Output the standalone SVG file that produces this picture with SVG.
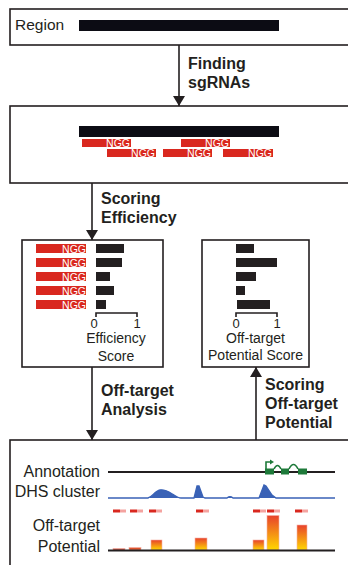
<svg xmlns="http://www.w3.org/2000/svg" width="348" height="565" viewBox="0 0 348 565">
<style>
.box{fill:#fff;stroke:#231f20;stroke-width:1.6}
.lbl{font-family:"Liberation Sans",Arial,sans-serif;font-size:16px;font-weight:bold;fill:#231f20}
.txt{font-family:"Liberation Sans",Arial,sans-serif;font-size:14px;fill:#231f20}
.tick{font-family:"Liberation Sans",Arial,sans-serif;font-size:13px;fill:#231f20}
.trk{font-family:"Liberation Sans",Arial,sans-serif;font-size:16px;fill:#231f20}
.ngg{font-family:"Liberation Sans",Arial,sans-serif;font-size:10.5px;fill:#fff}
.red{fill:#d9281f}
.blk{fill:#0c0c14}
.bar{fill:#231f20}
.con{stroke:#231f20;stroke-width:1.6;fill:none}
.mk{fill:#d9281f}
.mk2{fill:#f4a3a0}
</style>
<defs>
<marker id="ah" markerUnits="userSpaceOnUse" markerWidth="10" markerHeight="12" viewBox="0 0 10 12" refX="10" refY="6" orient="auto">
<path d="M0,0 L10,6 L0,12 z" fill="#231f20"/>
</marker>
<linearGradient id="grad" x1="0" y1="0" x2="0" y2="1">
<stop offset="0" stop-color="#e8412c"/>
<stop offset="1" stop-color="#ffd800"/>
</linearGradient>
</defs>

<g id="connectors">
<line class="con" x1="179" y1="45" x2="179" y2="106" marker-end="url(#ah)"/>
<line class="con" x1="92" y1="183" x2="92" y2="240" marker-end="url(#ah)"/>
<line class="con" x1="92" y1="367" x2="92" y2="440" marker-end="url(#ah)"/>
<line class="con" x1="256" y1="440" x2="256" y2="367" marker-end="url(#ah)"/>
<text class="lbl" x="188" y="69">Finding</text>
<text class="lbl" x="188" y="88">sgRNAs</text>
<text class="lbl" x="101" y="204">Scoring</text>
<text class="lbl" x="101" y="223">Efficiency</text>
<text class="lbl" x="101" y="396">Off-target</text>
<text class="lbl" x="101" y="415">Analysis</text>
<text class="lbl" x="265" y="390">Scoring</text>
<text class="lbl" x="265" y="409">Off-target</text>
<text class="lbl" x="265" y="428">Potential</text>
</g>

<g id="region">
<rect class="box" x="10" y="9" width="360" height="36"/>
<text class="trk" x="15" y="30" style="font-size:15.5px">Region</text>
<rect class="blk" x="79" y="20" width="200" height="11"/>
</g>

<g id="sgrnas">
<rect class="box" x="10" y="106" width="360" height="77"/>
<rect class="blk" x="79" y="126" width="200" height="11"/>
<rect class="red" x="82" y="139" width="49" height="8"/>
<text class="ngg" x="130" y="147" text-anchor="end">NGG</text>
<rect class="red" x="181" y="139" width="49" height="8"/>
<text class="ngg" x="229" y="147" text-anchor="end">NGG</text>
<rect class="red" x="107" y="149" width="49" height="8"/>
<text class="ngg" x="155" y="157" text-anchor="end">NGG</text>
<rect class="red" x="163" y="149" width="49" height="8"/>
<text class="ngg" x="211" y="157" text-anchor="end">NGG</text>
<rect class="red" x="223" y="149" width="50" height="8"/>
<text class="ngg" x="272" y="157" text-anchor="end">NGG</text>
</g>

<g id="efficiency">
<rect class="box" x="22" y="240" width="141" height="127"/>
<rect class="red" x="36" y="244" width="50" height="9"/><text class="ngg" x="86" y="252.5" text-anchor="end">NGG</text>
<rect class="red" x="36" y="258" width="50" height="9"/><text class="ngg" x="86" y="266.5" text-anchor="end">NGG</text>
<rect class="red" x="36" y="272" width="50" height="9"/><text class="ngg" x="86" y="280.5" text-anchor="end">NGG</text>
<rect class="red" x="36" y="286" width="50" height="9"/><text class="ngg" x="86" y="294.5" text-anchor="end">NGG</text>
<rect class="red" x="36" y="300" width="50" height="9"/><text class="ngg" x="86" y="308.5" text-anchor="end">NGG</text>
<rect class="bar" x="96" y="244" width="28" height="9"/>
<rect class="bar" x="96" y="258" width="26" height="9"/>
<rect class="bar" x="96" y="272" width="14" height="9"/>
<rect class="bar" x="96" y="286" width="18" height="9"/>
<rect class="bar" x="96" y="300" width="10" height="9"/>
<path class="con" d="M96,317 V313 H137 V317"/>
<text class="tick" x="94" y="328" text-anchor="middle">0</text>
<text class="tick" x="137" y="328" text-anchor="middle">1</text>
<text class="txt" x="116" y="343" text-anchor="middle">Efficiency</text>
<text class="txt" x="116" y="361" text-anchor="middle">Score</text>
</g>

<g id="offtarget-score">
<rect class="box" x="202" y="240" width="107" height="127"/>
<rect class="bar" x="236" y="244" width="18" height="9"/>
<rect class="bar" x="236" y="258" width="41" height="9"/>
<rect class="bar" x="236" y="272" width="20" height="9"/>
<rect class="bar" x="236" y="286" width="9" height="9"/>
<rect class="bar" x="237" y="300" width="33" height="9"/>
<path class="con" d="M236,317 V313 H277 V317"/>
<text class="tick" x="236" y="328" text-anchor="middle">0</text>
<text class="tick" x="277" y="328" text-anchor="middle">1</text>
<text class="txt" x="255.5" y="343" text-anchor="middle">Off-target</text>
<text class="txt" x="255.5" y="360" text-anchor="middle">Potential Score</text>
</g>

<g id="analysis">
<rect class="box" x="10" y="440" width="360" height="140"/>
<text class="trk" x="100" y="477" text-anchor="end">Annotation</text>
<line x1="108" y1="472" x2="335" y2="472" stroke="#231f20" stroke-width="2"/>
<g fill="#1e7a3a" stroke="#1e7a3a">
<rect x="265" y="468.5" width="9" height="6" stroke="none"/>
<rect x="281" y="468.5" width="8" height="6" stroke="none"/>
<rect x="298" y="468.5" width="9" height="6" stroke="none"/>
<path d="M274,469 Q277.5,462 281,469 M289,469 Q293.5,460 298,469" fill="none" stroke-width="1.6"/>
<path d="M266,469 V462 H271" fill="none" stroke-width="1.6"/>
<path d="M270,459.5 L274,462 L270,464.5 z" stroke="none"/>
</g>
<text class="trk" x="100" y="497" text-anchor="end">DHS cluster</text>
<path d="M108,498 L148,498 C152,497 155,491 160,490 C165,489 169,492 174,495 C177,497 179,498 181,498 L194,498 L197,486 L199,486 L203,497 L205,498 L227,498 Q230,495.5 233,498 L259,498 L264,485 L266,486 L272,495 L276,498 L335,498" fill="#3a62b6" stroke="#3a62b6" stroke-width="1.3"/>
<text class="trk" x="100" y="531" text-anchor="end">Off-target</text>
<text class="trk" x="100" y="552" text-anchor="end">Potential</text>
<g>
<rect class="mk" x="113" y="509.5" width="7" height="3"/><rect class="mk2" x="120" y="509.5" width="6" height="3"/>
<rect class="mk" x="130" y="509.5" width="7" height="3"/><rect class="mk2" x="137" y="509.5" width="6" height="3"/>
<rect class="mk" x="149" y="509.5" width="7" height="3"/><rect class="mk2" x="156" y="509.5" width="6" height="3"/>
<rect class="mk" x="196" y="509.5" width="7" height="3"/><rect class="mk2" x="203" y="509.5" width="6" height="3"/>
<rect class="mk" x="253" y="509.5" width="7" height="3"/><rect class="mk2" x="260" y="509.5" width="6" height="3"/>
<rect class="mk" x="267" y="509.5" width="7" height="3"/><rect class="mk2" x="274" y="509.5" width="6" height="3"/>
<rect class="mk" x="295" y="509.5" width="7" height="3"/><rect class="mk2" x="302" y="509.5" width="6" height="3"/>
</g>
<g fill="url(#grad)" stroke="#f6b3a6" stroke-width="0.6">
<rect x="113" y="548.5" width="12" height="1.5" fill="#c0392b"/>
<rect x="129" y="547.5" width="12" height="2.5" fill="#e0552e"/>
<rect x="151" y="540" width="11" height="10"/>
<rect x="195" y="538" width="12" height="12"/>
<rect x="253" y="540" width="11" height="10"/>
<rect x="267" y="515.5" width="12" height="34.5"/>
<rect x="297" y="525" width="10" height="25"/>
</g>
<line x1="108" y1="550.5" x2="335" y2="550.5" stroke="#231f20" stroke-width="2"/>
</g>
</svg>
